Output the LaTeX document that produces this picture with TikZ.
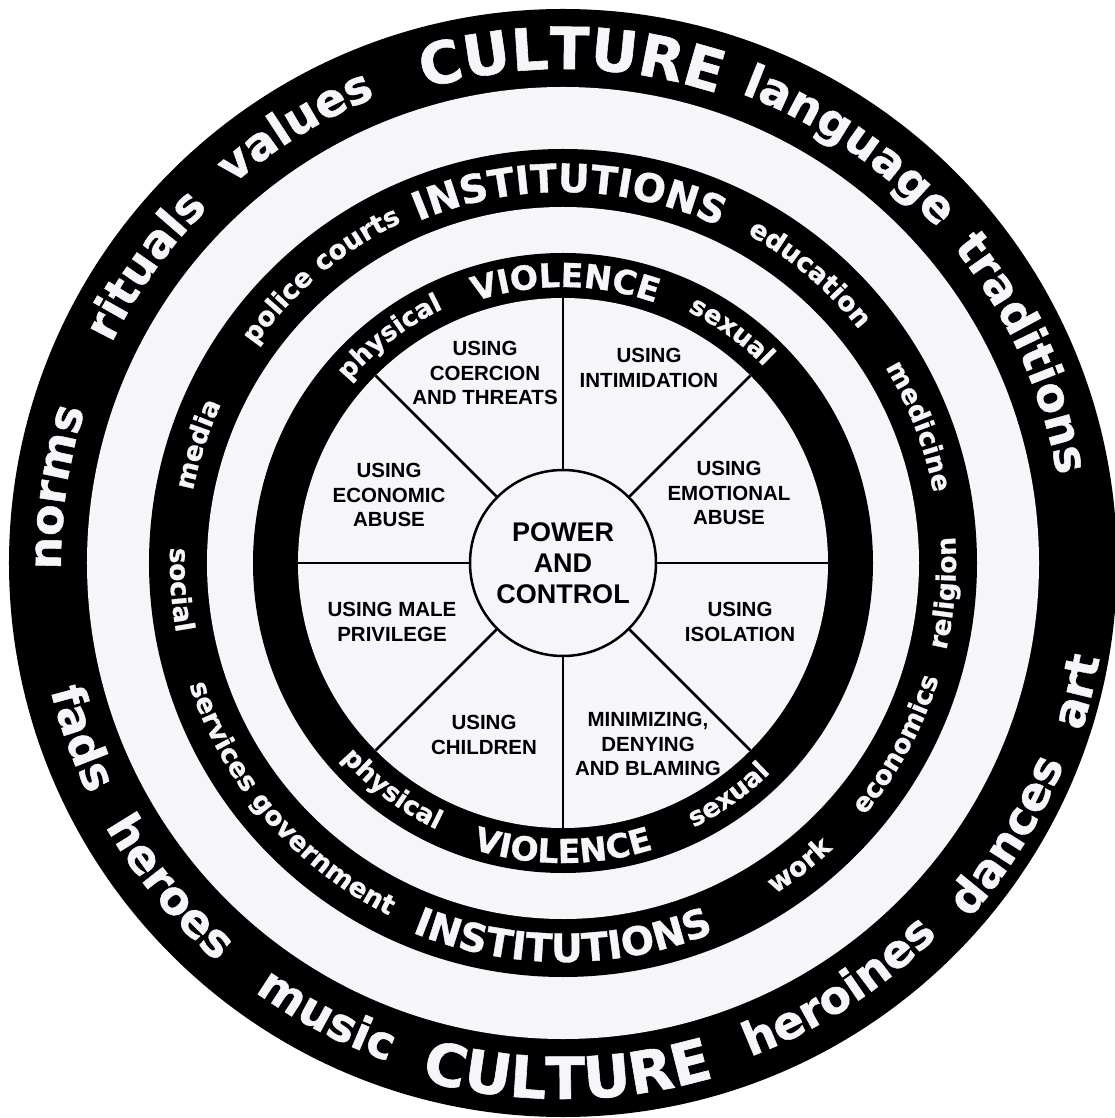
\documentclass[tikz,border=0pt]{standalone}
\usepackage{fontspec}
\setmainfont{Liberation Sans}
\newfontfamily\ringfont{DejaVu Sans Bold}[FakeBold=1]
\usetikzlibrary{decorations.text}
\definecolor{wheelbg}{RGB}{246,246,250}
\newcommand\culturefont{\ringfont\fontsize{58}{58}\selectfont\color{wheelbg}}
\newcommand\outerfont{\ringfont\fontsize{46}{46}\selectfont\color{wheelbg}}
\newcommand\instfont{\ringfont\fontsize{39}{39}\selectfont\color{wheelbg}}
\newcommand\inwordfont{\ringfont\fontsize{26.5}{26.5}\selectfont\color{wheelbg}}
\newcommand\violfont{\ringfont\fontsize{33}{33}\selectfont\color{wheelbg}}
\newcommand\kindfont{\ringfont\fontsize{26}{26}\selectfont\color{wheelbg}}

\begin{document}
\begin{tikzpicture}[x=1pt, y=1pt,
  band/.style={fill=black},
  gap/.style={fill=wheelbg},
  spoke/.style={line width=2.5pt},
  tactic/.style={align=center, font=\bfseries\fontsize{20.5}{24.5}\selectfont},
  ring text/.style={decorate, decoration={text along path, text align=center, text={#1}}}]

	\fill[white] (-563pt,-555pt) rectangle (551pt,563pt);
	\useasboundingbox (-563pt,-555pt) rectangle (551pt,563pt);

	\fill[band] (0,0) circle[radius=554pt];
	\fill[gap] (0,0) circle[radius=476pt];
	\fill[band] (0,0) circle[radius=414pt];
	\fill[gap] (0,0) circle[radius=356pt];
	\fill[band] (0,0) circle[radius=310pt];
	\fill[gap] (0,0) circle[radius=265pt];

	\node[circle, draw, line width=2.5pt, fill=wheelbg, minimum size=186pt, inner sep=0pt,
	  align=center, font=\bfseries\fontsize{27}{31}\selectfont] (pc) at (0,0) {POWER\\AND\\CONTROL};

	\draw[spoke] (pc.0) -- (0:265pt);
	\draw[spoke] (pc.45) -- (45:265pt);
	\draw[spoke] (pc.90) -- (90:265pt);
	\draw[spoke] (pc.135) -- (135:265pt);
	\draw[spoke] (pc.180) -- (180:265pt);
	\draw[spoke] (pc.225) -- (225:265pt);
	\draw[spoke] (pc.270) -- (270:265pt);
	\draw[spoke] (pc.315) -- (315:265pt);

	\node[tactic] (coercion) at (-78,190) {USING\\COERCION\\AND THREATS};
	\node[tactic] (intimidation) at (86,195) {USING\\INTIMIDATION};
	\node[tactic] (emotional) at (166,70) {USING\\EMOTIONAL\\ABUSE};
	\node[tactic] (isolation) at (177,-59) {USING\\ISOLATION};
	\node[tactic] (minimizing) at (85,-181) {MINIMIZING,\\DENYING\\AND BLAMING};
	\node[tactic] (children) at (-79,-172) {USING\\CHILDREN};
	\node[tactic] (privilege) at (-171,-59) {USING MALE\\PRIVILEGE};
	\node[tactic] (economic) at (-174,68) {USING\\ECONOMIC\\ABUSE};

	% culture ring
	\path[ring text={|\outerfont|norms}] (211.5:502pt) arc[start angle=211.5, end angle=131.5, radius=502pt];
	\path[ring text={|\outerfont|rituals}] (184.5:502pt) arc[start angle=184.5, end angle=104.5, radius=502pt];
	\path[ring text={|\outerfont|values}] (161.5:502pt) arc[start angle=161.5, end angle=81.5, radius=502pt];
	\path[ring text={|\culturefont|CULTURE}] (129:494pt) arc[start angle=129, end angle=49, radius=494pt];
	\path[ring text={|\outerfont|language}] (95.5:502pt) arc[start angle=95.5, end angle=15.5, radius=502pt];
	\path[ring text={|\outerfont|traditions}] (64.5:502pt) arc[start angle=64.5, end angle=-15.5, radius=502pt];
	\path[ring text={|\outerfont|fads}] (160:528pt) arc[start angle=160, end angle=240, radius=528pt];
	\path[ring text={|\outerfont|heroes}] (179.5:528pt) arc[start angle=179.5, end angle=259.5, radius=528pt];
	\path[ring text={|\outerfont|music}] (202.5:528pt) arc[start angle=202.5, end angle=282.5, radius=528pt];
	\path[ring text={|\culturefont|CULTURE}] (230.5:536pt) arc[start angle=230.5, end angle=310.5, radius=536pt];
	\path[ring text={|\outerfont|heroines}] (263:528pt) arc[start angle=263, end angle=343, radius=528pt];
	\path[ring text={|\outerfont|dances}] (288.5:540pt) arc[start angle=288.5, end angle=368.5, radius=540pt];
	\path[ring text={|\outerfont|art}] (306:545pt) arc[start angle=306, end angle=386, radius=545pt];

	% institutions ring
	\path[ring text={|\inwordfont|media}] (202:377pt) arc[start angle=202, end angle=122, radius=377pt];
	\path[ring text={|\inwordfont|police}] (178:377pt) arc[start angle=178, end angle=98, radius=377pt];
	\path[ring text={|\inwordfont|courts}] (162.5:377pt) arc[start angle=162.5, end angle=82.5, radius=377pt];
	\path[ring text={|\instfont|INSTITUTIONS}] (129:371pt) arc[start angle=129, end angle=49, radius=371pt];
	\path[ring text={|\inwordfont|education}] (89.5:377pt) arc[start angle=89.5, end angle=9.5, radius=377pt];
	\path[ring text={|\inwordfont|medicine}] (61:377pt) arc[start angle=61, end angle=-19, radius=377pt];
	\path[ring text={|\inwordfont|social}] (144:393pt) arc[start angle=144, end angle=224, radius=393pt];
	\path[ring text={|\inwordfont|services}] (167:393pt) arc[start angle=167, end angle=247, radius=393pt];
	\path[ring text={|\inwordfont|government}] (190.5:393pt) arc[start angle=190.5, end angle=270.5, radius=393pt];
	\path[ring text={|\instfont|INSTITUTIONS}] (230:399pt) arc[start angle=230, end angle=310, radius=399pt];
	\path[ring text={|\inwordfont|work}] (268:393pt) arc[start angle=268, end angle=348, radius=393pt];
	\path[ring text={|\inwordfont|economics}] (291.5:393pt) arc[start angle=291.5, end angle=371.5, radius=393pt];
	\path[ring text={|\inwordfont|religion}] (315.5:393pt) arc[start angle=315.5, end angle=395.5, radius=393pt];

	% violence ring
	\path[ring text={|\kindfont|physical}] (167.5:281pt) arc[start angle=167.5, end angle=87.5, radius=281pt];
	\path[ring text={|\violfont|VIOLENCE}] (129.5:276pt) arc[start angle=129.5, end angle=49.5, radius=276pt];
	\path[ring text={|\kindfont|sexual}] (94:281pt) arc[start angle=94, end angle=14, radius=281pt];
	\path[ring text={|\kindfont|physical}] (193:295pt) arc[start angle=193, end angle=273, radius=295pt];
	\path[ring text={|\violfont|VIOLENCE}] (230:300pt) arc[start angle=230, end angle=310, radius=300pt];
	\path[ring text={|\kindfont|sexual}] (265.5:295pt) arc[start angle=265.5, end angle=345.5, radius=295pt];

\end{tikzpicture}
\end{document}
